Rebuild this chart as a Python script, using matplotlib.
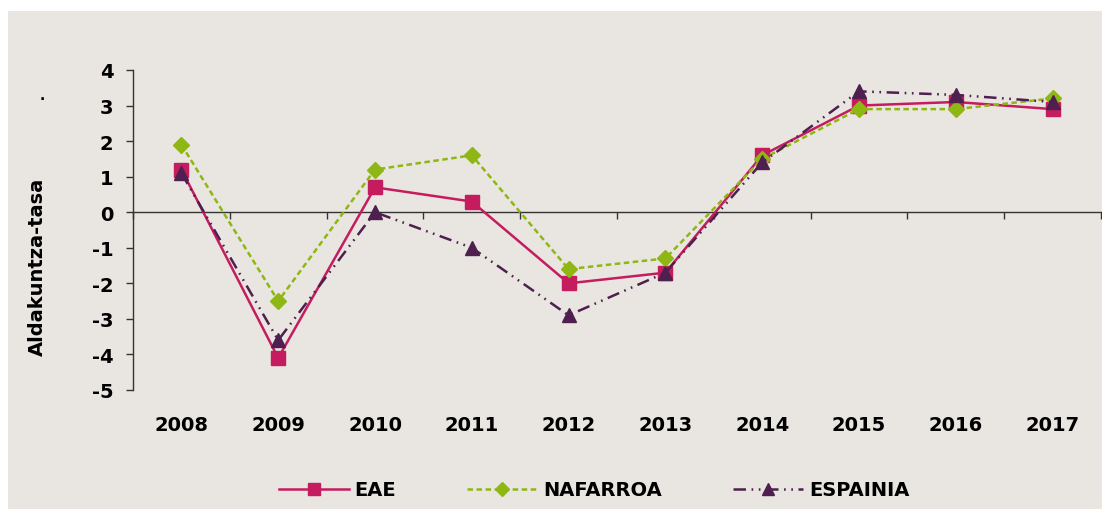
import matplotlib
matplotlib.use("Agg")
import matplotlib.pyplot as plt
from matplotlib.patches import Rectangle

years = ["2008", "2009", "2010", "2011", "2012", "2013", "2014", "2015", "2016", "2017"]
eae = [1.2, -4.1, 0.7, 0.3, -2.0, -1.7, 1.6, 3.0, 3.1, 2.9]
nafarroa = [1.9, -2.5, 1.2, 1.6, -1.6, -1.3, 1.5, 2.9, 2.9, 3.2]
espainia = [1.1, -3.6, 0.0, -1.0, -2.9, -1.7, 1.4, 3.4, 3.3, 3.1]
yticks = [4, 3, 2, 1, 0, -1, -2, -3, -4, -5]

plt.rcParams['font.family'] = ['DejaVu Sans']
plt.rcParams['lines.scale_dashes'] = False

W, H = 1102, 510
fig = plt.figure(figsize=(W / 100, H / 100), dpi=100, facecolor='white')
bg = '#E9E6E1'
fig.patches.append(Rectangle((8 / W, 0), 1, 1 - 12 / H, transform=fig.transFigure,
                             facecolor=bg, edgecolor='none', zorder=-10))

ax = fig.add_axes([133 / W, 1 - 391 / H, (1101 - 133) / W, 320 / H])
ax.set_facecolor('none')

x = list(range(len(years)))
c_eae = '#C41C5E'
c_naf = '#8FB714'
c_esp = '#4E1F4F'

ax.plot(x, eae, color=c_eae, lw=1.8, marker='s', ms=10, mec=c_eae, mfc=c_eae,
        label='EAE', zorder=3)
ax.plot(x, nafarroa, color=c_naf, lw=1.8, ls=(0, (4, 2.5)), marker='D', ms=8,
        mec=c_naf, mfc=c_naf, label='NAFARROA', zorder=4)
ax.plot(x, espainia, color=c_esp, lw=1.8, ls=(0, (9, 4, 1.2, 4, 1.2, 4)), marker='^',
        ms=10, mec=c_esp, mfc=c_esp, label='ESPAINIA', zorder=5)

ax.set_xlim(-0.5, len(years) - 0.5)
ax.set_ylim(-5, 4)
ax.set_yticks(yticks)
ax.set_yticklabels([str(v) for v in yticks], fontsize=14, fontweight='bold')
ax.tick_params(axis='y', direction='out', length=5, width=1, color='#333333', pad=9)

for s in ['top', 'right']:
    ax.spines[s].set_visible(False)
ax.spines['left'].set_color('#333333')
ax.spines['left'].set_linewidth(1)
ax.spines['bottom'].set_position(('data', 0))
ax.spines['bottom'].set_color('#333333')
ax.spines['bottom'].set_linewidth(1)
ax.set_xticks([i - 0.5 for i in range(len(years) + 1)])
ax.set_xticklabels([])
ax.tick_params(axis='x', direction='out', length=5, width=1, color='#333333')

sec = ax.secondary_xaxis('bottom')
sec.set_xticks(x)
sec.set_xticklabels(years, fontsize=14, fontweight='bold')
sec.tick_params(length=0, pad=18)
sec.spines['bottom'].set_visible(False)

fig.text(37 / W, 1 - 267 / H, 'Aldakuntza-tasa', rotation=90, ha='center', va='center',
         fontsize=14, fontweight='bold')
fig.text(42 / W, 1 - 103 / H, '.', ha='center', va='bottom', fontsize=10, fontweight='bold')

fig.legend(loc='center', bbox_to_anchor=(594 / W, 1 - 491 / H), ncol=3, frameon=False,
           prop={'size': 14, 'weight': 'bold'}, handlelength=3.6, handletextpad=0.31,
           columnspacing=3.65, numpoints=1, markerscale=0.85)

fig.savefig('out.png', dpi=100, facecolor='white')
